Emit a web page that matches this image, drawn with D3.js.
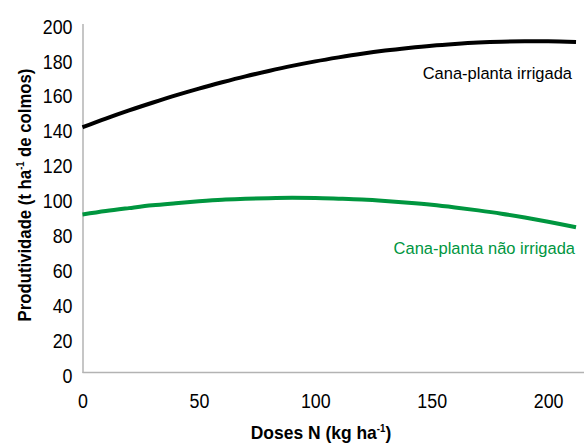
<!DOCTYPE html>
<html>
<head>
<meta charset="utf-8">
<script src="https://cdn.jsdelivr.net/npm/d3@7"></script>
<style>
  html, body { margin: 0; padding: 0; background: #fff; }
  svg { display: block; }
  text { font-family: "Liberation Sans", Arial, sans-serif; }
</style>
</head>
<body>
<svg id="chart" width="584" height="443"></svg>
<script>
// Nitrogen doses (kg ha-1)
const doses = [0, 10, 20, 30, 40, 50, 60, 70, 80, 90, 100, 110, 120, 130, 140, 150, 160, 170, 180, 190, 200, 212];
// Stalk yield, irrigated plant cane (t ha-1)
const irrigada = [140.5, 145.5, 150.2, 154.6, 158.8, 162.7, 166.3, 169.7, 172.8, 175.7, 178.3, 180.6, 182.7, 184.5, 186.0, 187.3, 188.3, 189.1, 189.6, 189.8, 189.8, 189.4];
// Stalk yield, rainfed plant cane (t ha-1)
const naoIrrigada = [90.5, 92.5, 94.2, 95.8, 97.0, 98.1, 99.0, 99.5, 99.9, 100.1, 100.0, 99.6, 99.1, 98.3, 97.3, 96.1, 94.6, 92.9, 91.0, 88.8, 86.4, 83.2];
const xTicks = [0, 50, 100, 150, 200];
const yTicks = [0, 20, 40, 60, 80, 100, 120, 140, 160, 180, 200];
const seriesNames = ["Cana-planta irrigada", "Cana-planta não irrigada"];
const seriesColors = ["#000000", "#00963f"];

// Horizontal squeeze giving the narrow, condensed look of the lettering
const tickSqueeze = 0.85;
const labelSqueeze = 0.97;
const xTitleSqueeze = 0.97;
const yTitleSqueeze = 0.93;

const svg = d3.select("#chart");
const x = d3.scaleLinear().domain([0, 215]).range([82.5, 583]);
const y = d3.scaleLinear().domain([0, 200]).range([372.5, 23.5]);

// Axes: light grey baseline, no tick marks
const xAxis = svg.append("g")
  .attr("transform", `translate(0,${y(0)})`)
  .call(d3.axisBottom(x).tickValues(xTicks).tickSize(0).tickPadding(0).tickFormat(d3.format("d")));
xAxis.attr("font-family", null);
xAxis.select(".domain").attr("stroke", "#b3b3b3").attr("stroke-width", 1.5).attr("d", `M${x(0)},0H584`);
xAxis.selectAll("text")
  .attr("font-size", 21).attr("fill", "#000")
  .attr("y", 36).attr("dy", 0)
  .attr("transform", `scale(${tickSqueeze},1)`);

const yAxis = svg.append("g")
  .attr("transform", `translate(${x(0)},0)`)
  .call(d3.axisLeft(y).tickValues(yTicks).tickSize(0).tickPadding(10).tickFormat(d3.format("d")));
yAxis.attr("font-family", null);
yAxis.select(".domain").attr("stroke", "#b3b3b3").attr("stroke-width", 1.5);
yAxis.selectAll("text")
  .attr("font-size", 21).attr("fill", "#000")
  .attr("x", -10 / tickSqueeze).attr("dy", "0.46em")
  .attr("transform", `scale(${tickSqueeze},1)`);

// Yield curves
const line = d3.line()
  .x((d, i) => x(doses[i]))
  .y(d => y(d))
  .curve(d3.curveMonotoneX);

[irrigada, naoIrrigada].forEach((vals, k) => {
  svg.append("path")
    .datum(vals)
    .attr("d", line)
    .attr("fill", "none")
    .attr("stroke", seriesColors[k])
    .attr("stroke-width", 4);
});

// Series labels
svg.append("text")
  .attr("transform", `translate(572,79) scale(${labelSqueeze},1)`)
  .attr("text-anchor", "end")
  .attr("font-size", 17)
  .attr("fill", seriesColors[0])
  .text(seriesNames[0]);
svg.append("text")
  .attr("transform", `translate(575,254) scale(${labelSqueeze},1)`)
  .attr("text-anchor", "end")
  .attr("font-size", 17)
  .attr("fill", seriesColors[1])
  .text(seriesNames[1]);

// Axis titles
const xTitle = svg.append("text")
  .attr("transform", `translate(321,439) scale(${xTitleSqueeze},1)`)
  .attr("text-anchor", "middle")
  .attr("font-size", 18)
  .attr("font-weight", "bold")
  .attr("fill", "#000");
xTitle.append("tspan").text("Doses N (kg ha");
xTitle.append("tspan").attr("dy", -7).attr("font-size", 10).text("-1");
xTitle.append("tspan").attr("dy", 7).text(")");

const yTitle = svg.append("text")
  .attr("transform", `translate(31,195) rotate(-90) scale(${yTitleSqueeze},1)`)
  .attr("text-anchor", "middle")
  .attr("font-size", 18)
  .attr("font-weight", "bold")
  .attr("fill", "#000");
yTitle.append("tspan").text("Produtividade (t ha");
yTitle.append("tspan").attr("dy", -7).attr("font-size", 10).text("-1");
yTitle.append("tspan").attr("dy", 7).text(" de colmos)");
</script>
</body>
</html>
